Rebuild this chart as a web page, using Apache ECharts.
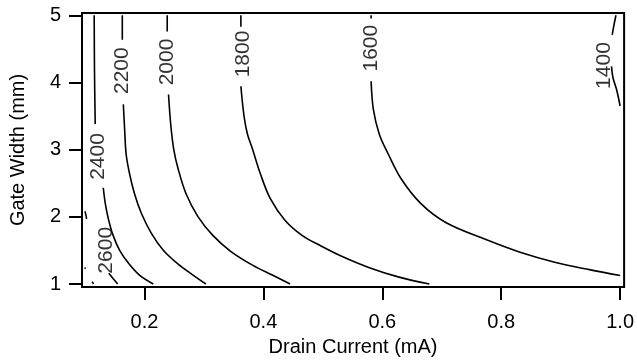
<!DOCTYPE html>
<html>
<head>
<meta charset="utf-8">
<script src="https://cdn.jsdelivr.net/npm/echarts@6/dist/echarts.min.js"></script>
<style>
  html, body { margin: 0; padding: 0; background: #fff; }
  #chart { width: 637px; height: 362px; }
</style>
</head>
<body>
<div id="chart"></div>
<script>
// Tick values on both axes
const xTicks = [0.2, 0.4, 0.6, 0.8, 1.0];
const yTicks = [1, 2, 3, 4, 5];

// Contour levels and the point each level's label sits on (drain current, gate width)
const levels = ['2600', '2400', '2200', '2000', '1800', '1600', '1400'];
const labelAnchors = [
  [0.1358, 1.502], [0.1217, 2.898], [0.1625, 4.176], [0.2375, 4.305],
  [0.3658, 4.424], [0.5817, 4.511], [0.9725, 4.252]
];

// Contour paths, each split into pieces around its label: [drain current, gate width]
const c2600 = [
  [[0.100, 2.083], [0.1015, 2.03], [0.1028, 1.97]],
  [[0.1400, 1.162], [0.1475, 1.08], [0.1550, 1.0]]
];
const c2400 = [
  [[0.1155, 5.0], [0.1160, 4.19], [0.1172, 3.38]],
  [[0.1308, 2.433], [0.1342, 2.196], [0.1392, 1.975], [0.1467, 1.739], [0.1583, 1.502],
   [0.1733, 1.31], [0.1917, 1.133], [0.2150, 1.0]]
];
const c2200 = [
  [[0.1628, 5.0], [0.1628, 4.635]],
  [[0.1645, 3.674], [0.1667, 3.304], [0.1692, 2.935], [0.1750, 2.64], [0.1833, 2.344],
   [0.1950, 2.049], [0.2117, 1.753], [0.2317, 1.502], [0.2567, 1.295], [0.2817, 1.133], [0.3033, 1.0]]
];
const c2000 = [
  [[0.2383, 5.0], [0.2383, 4.757]],
  [[0.2405, 3.82], [0.2442, 3.378], [0.2492, 3.009], [0.2567, 2.713], [0.2700, 2.344],
   [0.2900, 2.004], [0.3150, 1.724], [0.3450, 1.487], [0.3817, 1.281], [0.4150, 1.133], [0.4450, 1.0]]
];
const c1800 = [
  [[0.3622, 5.0], [0.3622, 4.83]],
  [[0.3622, 3.944], [0.3675, 3.5], [0.3733, 3.23], [0.3817, 3.01], [0.3950, 2.64],
   [0.4117, 2.27], [0.4367, 1.945], [0.4650, 1.724], [0.4950, 1.576], [0.5317, 1.414],
   [0.5783, 1.244], [0.6283, 1.103], [0.6792, 1.0]]
];
const c1600 = [
  [[0.5812, 5.0], [0.5812, 4.953]],
  [[0.5812, 4.018], [0.5850, 3.6], [0.5950, 3.23], [0.6100, 2.935], [0.6317, 2.566],
   [0.6650, 2.196], [0.7067, 1.916], [0.7733, 1.665], [0.8317, 1.473], [0.8900, 1.325],
   [0.9483, 1.214], [1.0, 1.126]]
];
const c1400 = [
  [[0.993, 5.0], [0.9895, 4.85], [0.9867, 4.71]],
  [[0.9855, 4.24], [0.988, 4.07], [0.994, 3.895], [1.0, 3.65]]
];
// Two tiny fragments of the next level up, in the lower-left corner
const cCorner = [
  [[0.100, 1.245], [0.1006, 1.225]],
  [[0.112, 1.035], [0.1145, 1.0]]
];

const contours = [c2600, c2400, c2200, c2000, c1800, c1600, c1400, cCorner];

const FONT = 'Liberation Sans, Arial, Helvetica, sans-serif';
const INK = '#000';

const series = [];
contours.forEach(pieces => {
  pieces.forEach(pts => {
    series.push({
      type: 'line',
      data: pts,
      symbol: 'none',
      smooth: 0.35,
      silent: true,
      lineStyle: { color: INK, width: 1.6 },
      z: 3
    });
  });
});

series.push({
  type: 'scatter',
  data: labelAnchors.map((p, i) => [p[0], p[1], levels[i]]),
  symbolSize: 0,
  silent: true,
  label: {
    show: true,
    position: 'inside',
    rotate: 90,
    formatter: p => p.value[2],
    color: INK,
    fontFamily: FONT,
    fontSize: 21
  },
  z: 4
});

const chart = echarts.init(document.getElementById('chart'), null, { renderer: 'canvas' });
chart.setOption({
  animation: false,
  backgroundColor: '#fff',
  grid: {
    left: 78, top: 13, width: 547, height: 276,
    containLabel: false,
    show: true,
    borderColor: INK,
    borderWidth: 2,
    backgroundColor: 'transparent'
  },
  xAxis: {
    type: 'value',
    min: 0.095,
    max: 1.00667,
    name: 'Drain Current (mA)',
    nameLocation: 'middle',
    nameGap: 50,
    nameTextStyle: { color: INK, fontFamily: FONT, fontSize: 20 },
    axisLine: { show: false },
    splitLine: { show: false },
    axisTick: { show: true, customValues: xTicks, length: 13, inside: false, lineStyle: { color: INK, width: 2 } },
    axisLabel: {
      show: true, customValues: xTicks, margin: 25,
      formatter: v => v.toFixed(1),
      color: INK, fontFamily: FONT, fontSize: 20
    }
  },
  yAxis: {
    type: 'value',
    min: 0.9557,
    max: 5.034,
    name: 'Gate Width (mm)',
    nameLocation: 'middle',
    nameGap: 54,
    nameTextStyle: { color: INK, fontFamily: FONT, fontSize: 20 },
    axisLine: { show: false },
    splitLine: { show: false },
    axisTick: { show: true, customValues: yTicks, length: 13, inside: false, lineStyle: { color: INK, width: 2 } },
    axisLabel: {
      show: true, customValues: yTicks, margin: 21,
      formatter: v => String(v),
      color: INK, fontFamily: FONT, fontSize: 20
    }
  },
  series: series
});
</script>
</body>
</html>
